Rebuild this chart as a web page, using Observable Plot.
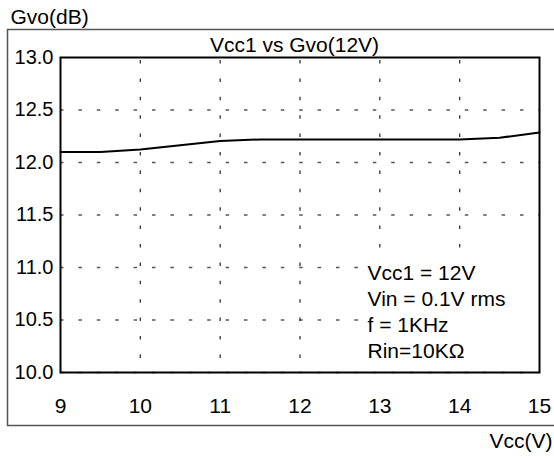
<!DOCTYPE html>
<html>
<head>
<meta charset="utf-8">
<script src="https://cdn.jsdelivr.net/npm/d3@7"></script>
<script src="https://cdn.jsdelivr.net/npm/@observablehq/plot@0.6"></script>
<style>
  html, body { margin: 0; padding: 0; background: #fff; }
  #chart { width: 554px; height: 458px; }
</style>
</head>
<body>
<div id="chart"></div>
<script>
// ---- data ----
const vcc = [9, 9.5, 10, 11, 11.5, 12, 13, 14, 14.5, 15];
const gvo = [12.1, 12.1, 12.124, 12.204, 12.22, 12.22, 12.22, 12.22, 12.236, 12.285];
const xTicks = [9, 10, 11, 12, 13, 14, 15];
const yTicks = [10.0, 10.5, 11.0, 11.5, 12.0, 12.5, 13.0];
const titleText = "Vcc1 vs Gvo(12V)";
const xLabel = "Vcc(V)";
const yLabel = "Gvo(dB)";
const noteLines = ["Vcc1 = 12V", "Vin = 0.1V rms", "f = 1KHz", "Rin=10K\u03A9"];

const rows = vcc.map((v, i) => ({x: v, y: gvo[i]}));

const W = 554, H = 458;
const plot = Plot.plot({
  width: W,
  height: H,
  marginLeft: 60,
  marginRight: 15,
  marginTop: 57,
  marginBottom: 86,
  style: {fontFamily: "'Liberation Sans', Arial, sans-serif", fontSize: "21px", color: "#000", background: "#fff"},
  x: {domain: [9, 15], ticks: xTicks},
  y: {domain: [10, 13], ticks: yTicks},
  marks: [
    Plot.gridY(yTicks.filter(t => t < 13), {stroke: "#555", strokeOpacity: 1, strokeWidth: 1.3, strokeDasharray: "3.5,14.9"}),
    Plot.gridX(xTicks.filter(t => t > 9 && t < 15), {stroke: "#333", strokeOpacity: 1, strokeWidth: 1.3, strokeDasharray: "3.5,14.9", strokeDashoffset: 15.4}),
    Plot.axisX(xTicks, {tickSize: 0, tickPadding: 26, fontSize: 21, label: null}),
    Plot.axisY(yTicks, {tickSize: 0, tickPadding: 7, fontSize: 20, tickFormat: d3.format(".1f"), label: null}),
    Plot.line(rows, {x: "x", y: "y", stroke: "#000", strokeWidth: 2}),
    Plot.text([noteLines.join("\n")], {
      text: d => d, frameAnchor: "bottom-left", textAnchor: "start", lineAnchor: "bottom",
      dx: 307, dy: -15, lineHeight: 26 / 21, fontSize: 21, fill: "#000", className: "note"
    }),
    Plot.text([titleText], {text: d => d, frameAnchor: "top", lineAnchor: "bottom", dx: -5.5, dy: -6, fontSize: 21, fill: "#000"}),
    Plot.text([xLabel], {text: d => d, frameAnchor: "bottom-right", textAnchor: "end", lineAnchor: "bottom", dx: 13, dy: 75, fontSize: 21, fill: "#000"}),
    Plot.text([yLabel], {text: d => d, frameAnchor: "top-left", textAnchor: "start", lineAnchor: "bottom", dx: -50, dy: -34, fontSize: 21, fill: "#000"}),
    Plot.frame({stroke: "#000", strokeWidth: 2})
  ]
});
document.getElementById("chart").appendChild(plot);

// outer border box (panel frame)
const svg = d3.select(plot);
svg.insert("rect", ":first-child")
  .attr("x", 7.5).attr("y", 29.5).attr("width", W).attr("height", 396)
  .attr("fill", "none").attr("stroke", "#555").attr("stroke-width", 1.5);

// white background box behind the annotation
const note = svg.select("g.note");
if (!note.empty()) {
  const bb = note.node().getBBox();
  note.insert("rect", ":first-child")
    .attr("x", bb.x - 6).attr("y", bb.y - 2)
    .attr("width", bb.width + 40).attr("height", bb.height + 6)
    .attr("fill", "#fff");
}
</script>
</body>
</html>
